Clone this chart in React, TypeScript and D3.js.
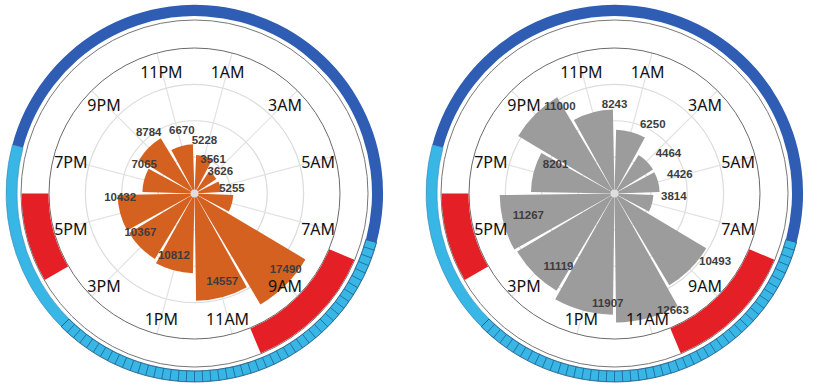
import React from 'react';
import * as d3 from 'd3';

// ---- data ----
const hourLabels = ['1AM', '3AM', '5AM', '7AM', '9AM', '11AM', '1PM', '3PM', '5PM', '7PM', '9PM', '11PM'];
const labelHours = [1, 3, 5, 7, 9, 11, 13, 15, 17, 19, 21, 23];
const binStartHours = [0, 2, 4, 6, 8, 10, 12, 14, 16, 18, 20, 22];
const binWidthHours = 2;
const leftValues = [5228, 3561, 3626, 5255, 17490, 14557, 10812, 10367, 10432, 7065, 8784, 6670];
const rightValues = [6250, 4464, 4426, 3814, 10493, 12663, 11907, 11119, 11267, 8201, 11000, 8243];
const nightRange = [19, 31]; // 7PM -> 7AM
const dayRange = [7, 19]; // 7AM -> 7PM
const hatchRange = [7, 15];
const hatchStepHours = 1 / 6;
const redRanges = [
  [7.5, 10.5],
  [16, 18],
];
const gridFractions = [0.25, 0.5, 0.75, 1];

// ---- layout ----
const W = 827;
const H = 389;
const R_GRID = 145.5;
const R_BAR_MAX = 129;
const R_THIN = 173.5;
const R_BAND_IN = 177.5;
const R_BAND_OUT = 188.5;
const R_HOUR = 128;

const angle = d3.scaleLinear().domain([0, 24]).range([0, 2 * Math.PI]);
const pt = (r: number, a: number): [number, number] => [r * Math.sin(a), -r * Math.cos(a)];

type ChartProps = {
  cx: number;
  cy: number;
  values: number[];
  fill: string;
  labelMode: 'above' | 'right';
};

function Chart({ cx, cy, values, fill, labelMode }: ChartProps) {
  const rScale = d3.scaleLinear().domain([0, d3.max(values) as number]).range([0, R_BAR_MAX]);
  const bars = values.map((v, i) => ({
    value: v,
    start: angle(binStartHours[i]),
    end: angle(binStartHours[i] + binWidthHours),
  }));
  const barArc = d3
    .arc<any>()
    .innerRadius(0)
    .outerRadius((d: any) => rScale(d.value))
    .startAngle((d: any) => d.start)
    .endAngle((d: any) => d.end)
    .padAngle(0.032)
    .padRadius(100);

  const bandArc = (r0: number, r1: number, h0: number, h1: number) =>
    d3.arc()({ innerRadius: r0, outerRadius: r1, startAngle: angle(h0), endAngle: angle(h1) } as any) as string;

  const hatchTicks = d3.range(hatchRange[0], hatchRange[1] + 1e-6, hatchStepHours);

  return (
    <g transform={`translate(${cx},${cy})`}>
      {gridFractions.slice(0, 3).map((f) => (
        <circle key={f} r={R_GRID * f} fill="none" stroke="#dcdcdc" strokeWidth={1.2} />
      ))}
      {labelHours.map((h) => {
        const [x, y] = pt(R_GRID, angle(h));
        return <line key={h} x1={0} y1={0} x2={x} y2={y} stroke="#e2e2e2" strokeWidth={1.2} />;
      })}
      {bars.map((b, i) => (
        <path key={i} d={barArc(b) as string} fill={fill} />
      ))}
      <circle r={4} fill="#dedede" />
      {bars.map((b, i) => {
        const mid = (b.start + b.end) / 2;
        const [x, y] = pt(rScale(b.value), mid);
        return labelMode === 'above' ? (
          <text
            key={i}
            x={x}
            y={y - 12}
            textAnchor="middle"
            fontFamily="'Liberation Sans', Arial, sans-serif"
            fontWeight="bold"
            fontSize={11.5}
            fill="#3d3d3d"
          >
            {b.value}
          </text>
        ) : (
          <text
            key={i}
            x={x + 9}
            y={y - 4}
            textAnchor="start"
            fontFamily="'Liberation Sans', Arial, sans-serif"
            fontWeight="bold"
            fontSize={11.5}
            fill="#3d3d3d"
          >
            {b.value}
          </text>
        );
      })}
      {labelHours.map((h, i) => {
        const [x, y] = pt(R_HOUR, angle(h));
        return (
          <text
            key={h}
            x={x}
            y={y + 8}
            textAnchor="middle"
            fontFamily="'Noto Sans', 'Liberation Sans', sans-serif"
            fontSize={16}
            fill="#111"
          >
            {hourLabels[i]}
          </text>
        );
      })}
      <circle r={R_GRID} fill="none" stroke="#6a6a6a" strokeWidth={1} />
      {redRanges.map((rr, i) => (
        <path key={i} d={bandArc(R_GRID + 0.5, R_THIN - 0.5, rr[0], rr[1])} fill="#e41f26" />
      ))}
      <circle r={R_THIN} fill="none" stroke="#777" strokeWidth={1} />
      <path d={bandArc(R_BAND_IN, R_BAND_OUT, dayRange[0], dayRange[1])} fill="#38b6e6" stroke="#3a86b0" strokeWidth={0.6} />
      {hatchTicks.map((h, i) => {
        const [x1, y1] = pt(R_BAND_IN, angle(h));
        const [x2, y2] = pt(R_BAND_OUT, angle(h));
        return <line key={i} x1={x1} y1={y1} x2={x2} y2={y2} stroke="#1b5580" strokeWidth={0.7} />;
      })}
      <path d={bandArc(R_BAND_IN, R_BAND_OUT, hatchRange[0], hatchRange[1])} fill="none" stroke="#1b5580" strokeWidth={0.7} />
      <path d={bandArc(R_BAND_IN, R_BAND_OUT, nightRange[0], nightRange[1])} fill="#2e5db3" />
    </g>
  );
}

export default function App() {
  return (
    <svg
      width={W}
      height={H}
      viewBox={`0 0 ${W} ${H}`}
      style={{ position: 'absolute', left: 0, top: 0, background: '#fff' }}
    >
      <rect width={W} height={H} fill="#fff" />
      <Chart cx={194.5} cy={193.5} values={leftValues} fill="#d4611f" labelMode="above" />
      <Chart cx={614.5} cy={193.5} values={rightValues} fill="#9c9c9c" labelMode="right" />
    </svg>
  );
}
